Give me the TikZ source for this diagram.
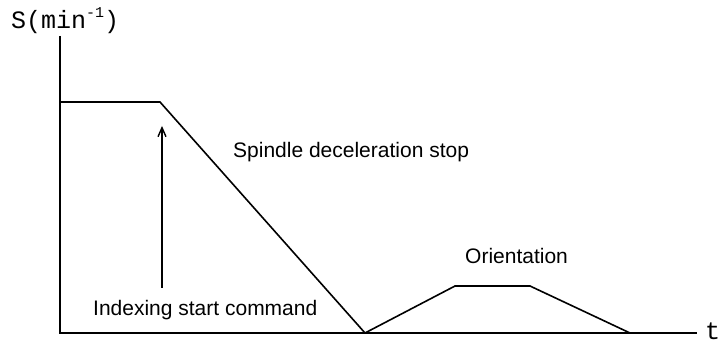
\documentclass[tikz,border=0pt]{standalone}
\usepackage{fontspec}
\setmainfont{Liberation Sans}
\newfontfamily\monofont{Liberation Mono}
\usetikzlibrary{arrows.meta}
\begin{document}
\begin{tikzpicture}[x=1pt,y=-1pt,
  curve/.style={line width=1.6pt,line join=miter},
  axisline/.style={line width=1.6pt},
  lbl/.style={font=\fontsize{21}{24}\selectfont,inner sep=0pt},
  monolbl/.style={font=\monofont\fontsize{25}{28}\selectfont,inner sep=0pt}]
\useasboundingbox (0,0) rectangle (726,344);
% axes
\coordinate (O) at (60,333);
\coordinate (ytop) at (60,36);
\coordinate (xend) at (697,333);
\draw[axisline] (ytop) -- (O) -- (xend);
% speed profile
\coordinate (p0) at (60,102);
\coordinate (p1) at (160,102);
\coordinate (p2) at (365,333);
\coordinate (p3) at (455,286);
\coordinate (p4) at (530,286);
\coordinate (p5) at (630,333);
\draw[curve] (p0) -- (p1) -- (p2) -- (p3) -- (p4) -- (p5);
% arrow
\coordinate (abot) at (162,288);
\coordinate (atop) at (162,126);
\draw[line width=1.4pt,-{Straight Barb[length=9pt,width=8pt,line width=1.4pt]}] (abot) -- (atop);
% labels
\node[monolbl,anchor=base west] (slbl) at (11,29) {S(min\raisebox{0.45em}{\fontsize{15}{16}\selectfont -1})};
\node[monolbl,anchor=base west] (tlbl) at (705,340) {t};
\node[lbl,anchor=base west] (decel) at (233,158) {Spindle deceleration stop};
\node[lbl,anchor=base west] (index) at (93,316) {Indexing start command};
\node[lbl,anchor=base west] (orient) at (465,264) {Orientation};
\end{tikzpicture}
\end{document}
